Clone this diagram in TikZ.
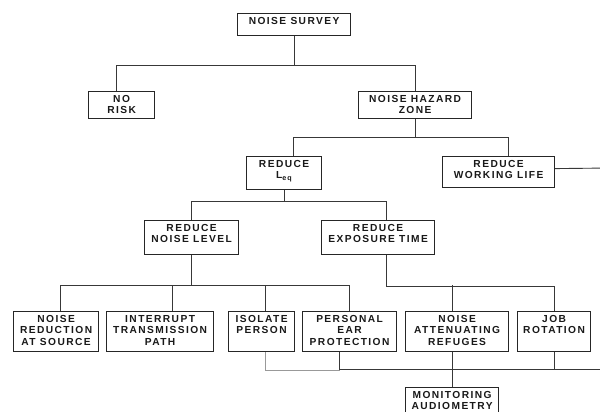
\documentclass[tikz,border=0pt]{standalone}
\usepackage{fontspec}
\newfontfamily\boxfont{Liberation Sans}[LetterSpace=14]
\tikzset{
  bx/.style={draw=black!85, line width=1.2pt, inner sep=0pt, anchor=north west,
    font=\boxfont\bfseries\fontsize{10.2}{11.2}\selectfont, text=black!90},
  conn/.style={draw=black!78, line width=0.9pt},
  lightconn/.style={draw=black!40, line width=0.9pt}
}
\newcommand{\mkbox}[6]{%
  \node[bx] (#1) at (#2,#3) {\parbox[t][\dimexpr #5pt-#3pt\relax][t]{\dimexpr #4pt-#2pt\relax}{\centering\rule{0pt}{11pt}#6}};}
\begin{document}
\begin{tikzpicture}[x=1pt,y=-1pt]
\useasboundingbox (0,0) rectangle (600,412);
\clip (0,0) rectangle (600,412);
\fill[white] (0,0) rectangle (600,412);
\mkbox{survey}{237}{13}{350}{35}{NOISE SURVEY}
\mkbox{norisk}{88}{91}{154}{118}{NO\\RISK}
\mkbox{hazard}{358}{91}{471}{118}{NOISE HAZARD\\ZONE}
\mkbox{leq}{246}{156}{321}{189}{REDUCE\\L\textsubscript{eq}}
\mkbox{wl}{442}{156}{554}{187}{REDUCE\\WORKING LIFE}
\mkbox{rnl}{144}{220}{238}{254}{REDUCE\\NOISE LEVEL}
\mkbox{ret}{321}{220}{434}{254}{REDUCE\\EXPOSURE TIME}
\mkbox{nras}{13}{311}{98}{351}{NOISE\\REDUCTION\\AT SOURCE}
\mkbox{itp}{106}{311}{213}{351}{INTERRUPT\\TRANSMISSION\\PATH}
\mkbox{iso}{228}{311}{294}{351}{ISOLATE\\PERSON}
\mkbox{pep}{302}{311}{396}{351}{PERSONAL\\EAR\\PROTECTION}
\mkbox{nar}{405}{311}{508}{351}{NOISE\\ATTENUATING\\REFUGES}
\mkbox{job}{517}{311}{590}{351}{JOB\\ROTATION}
\mkbox{mon}{405}{387}{498}{420}{MONITORING\\AUDIOMETRY}
\coordinate (e2) at (610,168);
\coordinate (e6) at (610,369);
% level 1
\draw[conn] (survey.south) -- ++(0,30);
\draw[conn] ([xshift=-5pt]norisk.north) -- ++(0,-26) -| (hazard.north);
% level 2
\draw[conn] (hazard.south) -- ++(0,19);
\draw[conn] ([xshift=9.5pt]leq.north) -- ++(0,-19) -| ([xshift=10pt]wl.north);
\draw[conn] ([yshift=3.5pt]wl.east) -- (e2);
% level 3
\draw[conn] (leq.south) -- ++(0,12);
\draw[conn] (rnl.north) -- ++(0,-19) -| ([xshift=8pt]ret.north);
% level 4
\draw[conn] (rnl.south) -- ++(0,31);
\draw[conn] ([xshift=4.5pt]nras.north) -- ++(0,-26) -| (pep.north);
\draw[conn] ([xshift=12pt]itp.north) -- ++(0,-26);
\draw[conn] ([xshift=4pt]iso.north) -- ++(0,-26);
\draw[conn] ([xshift=8pt]ret.south) -- ++(0,31) -| (job.north);
\draw[conn] ([xshift=-5pt]nar.north) -- ++(0,-26);
% bottom bus
\draw[lightconn] ([xshift=4pt]iso.south) -- ++(0,18) -| ([xshift=-10pt]pep.south);
\draw[conn] ([xshift=-10pt]pep.south) |- (e6);
\draw[conn] (mon.north) -- ([xshift=-5pt]nar.south);
\draw[conn] (job.south) -- ++(0,18);
\end{tikzpicture}
\end{document}
